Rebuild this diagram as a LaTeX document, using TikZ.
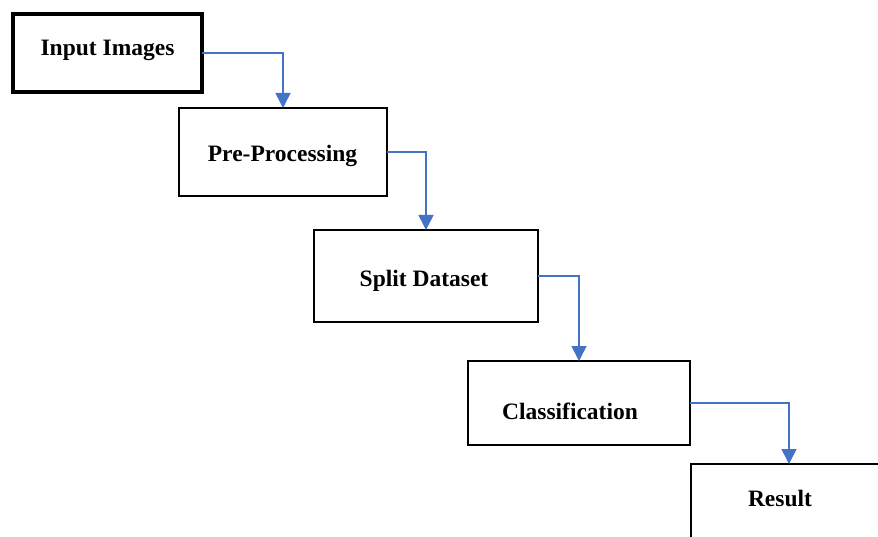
\documentclass[tikz,border=0pt]{standalone}
\usepackage{fontspec}
\setmainfont{Liberation Serif}
\usetikzlibrary{arrows.meta}
\definecolor{arrowblue}{HTML}{4472C4}
\begin{document}
\begin{tikzpicture}[x=1pt,y=-1pt,
  box/.style={draw=black, line width=2.8pt, inner sep=0pt, outer sep=0pt, rectangle},
  lbl/.style={anchor=base, inner sep=0pt, font=\fontsize{23.5}{26}\selectfont\bfseries},
  flow/.style={draw=arrowblue, line width=1.6pt, -{Triangle[length=15pt,width=15pt]}}]
\useasboundingbox (0,0) rectangle (878,537);
\clip (0,0) rectangle (878,537);
\node[box, line width=4.5pt, minimum width=189pt, minimum height=78pt] (b1) at (107.5,53) {};
\node[box, minimum width=208pt, minimum height=88pt] (b2) at (283,152) {};
\node[box, minimum width=224pt, minimum height=92pt] (b3) at (426,276) {};
\node[box, minimum width=222pt, minimum height=84pt] (b4) at (579,403) {};
\node[box, minimum width=196pt, minimum height=136pt] (b5) at (789,532) {};
\node[lbl] (t1) at (107.5,56) {Input Images};
\node[lbl] (t2) at (282.5,162) {Pre-Processing};
\node[lbl] (t3) at (424,287) {Split Dataset};
\node[lbl] (t4) at (570,419) {Classification};
\node[lbl] (t5) at (780,506) {Result};
\draw[flow] (b1.east) -| (b2.north);
\draw[flow] (b2.east) -| (b3.north);
\draw[flow] (b3.east) -| (b4.north);
\draw[flow] (b4.east) -| (b5.north);
\end{tikzpicture}
\end{document}
